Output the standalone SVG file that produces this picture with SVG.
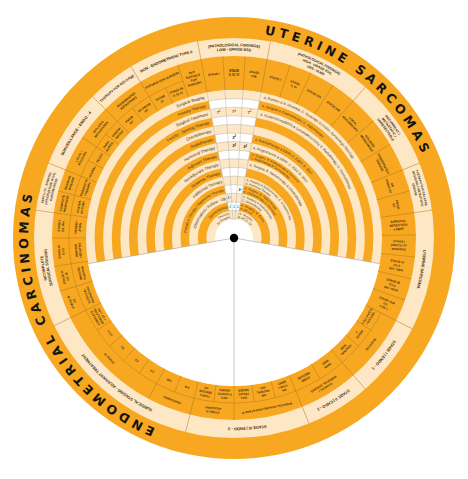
<svg xmlns="http://www.w3.org/2000/svg" width="468" height="479" viewBox="0 0 468 479">
<style>
.t{font-family:"DejaVu Sans",Verdana,sans-serif;font-weight:bold;font-size:12.5px;letter-spacing:4.1px;fill:#141414;text-anchor:middle}
.s{font-family:"Liberation Sans",Arial,sans-serif;font-weight:bold;fill:#3b2b12;text-anchor:middle}
.c{font-family:"Liberation Sans",Arial,sans-serif;font-weight:bold;font-size:3px;fill:#3b2b12;text-anchor:middle}
.l{font-family:"Liberation Sans",Arial,sans-serif;font-size:4px;fill:#3b2b12;text-anchor:end}
.r{font-family:"Liberation Sans",Arial,sans-serif;font-size:3.4px;fill:#3b2b12;text-anchor:start}
.r3{font-family:"Liberation Sans",Arial,sans-serif;font-size:3px;fill:#3b2b12;text-anchor:start}
.d{stroke:#a9741f;stroke-width:0.45;fill:none}
.g{stroke:#a6a6a6;stroke-width:0.4;fill:none}
.m{font-family:"Liberation Sans",Arial,sans-serif;font-size:4px;font-weight:bold;font-style:italic;text-anchor:middle}
.ro{fill:none;stroke:#F7A820;stroke-width:8.6}
.rp{fill:none;stroke:#FDE7C4;stroke-width:8.6}
</style>
<defs>
<path id="p206" d="M-206 0A206 206 0 1 1 206 0A206 206 0 1 1 -206 0"/>
<path id="p191" d="M-191 0A191 191 0 1 1 191 0A191 191 0 1 1 -191 0"/>
<path id="q0" d="M-143.7 0A143.7 143.7 0 1 1 143.7 0A143.7 143.7 0 1 1 -143.7 0"/>
<path id="q1" d="M-135.1 0A135.1 135.1 0 1 1 135.1 0A135.1 135.1 0 1 1 -135.1 0"/>
<path id="q2" d="M-126.5 0A126.5 126.5 0 1 1 126.5 0A126.5 126.5 0 1 1 -126.5 0"/>
<path id="q3" d="M-117.9 0A117.9 117.9 0 1 1 117.9 0A117.9 117.9 0 1 1 -117.9 0"/>
<path id="q4" d="M-109.3 0A109.3 109.3 0 1 1 109.3 0A109.3 109.3 0 1 1 -109.3 0"/>
<path id="q5" d="M-100.7 0A100.7 100.7 0 1 1 100.7 0A100.7 100.7 0 1 1 -100.7 0"/>
<path id="q6" d="M-92.1 0A92.1 92.1 0 1 1 92.1 0A92.1 92.1 0 1 1 -92.1 0"/>
<path id="q7" d="M-83.5 0A83.5 83.5 0 1 1 83.5 0A83.5 83.5 0 1 1 -83.5 0"/>
<path id="q8" d="M-74.9 0A74.9 74.9 0 1 1 74.9 0A74.9 74.9 0 1 1 -74.9 0"/>
<path id="q9" d="M-66.3 0A66.3 66.3 0 1 1 66.3 0A66.3 66.3 0 1 1 -66.3 0"/>
<path id="q10" d="M-57.7 0A57.7 57.7 0 1 1 57.7 0A57.7 57.7 0 1 1 -57.7 0"/>
<path id="q11" d="M-49.1 0A49.1 49.1 0 1 1 49.1 0A49.1 49.1 0 1 1 -49.1 0"/>
<path id="q12" d="M-40.5 0A40.5 40.5 0 1 1 40.5 0A40.5 40.5 0 1 1 -40.5 0"/>
<path id="q13" d="M-31.9 0A31.9 31.9 0 1 1 31.9 0A31.9 31.9 0 1 1 -31.9 0"/>
<path id="q14" d="M-23.3 0A23.3 23.3 0 1 1 23.3 0A23.3 23.3 0 1 1 -23.3 0"/>
<clipPath id="wedge"><path d="M0 0L-27.33 -147.5A150 150 0 0 1 27.33 -147.5Z"/></clipPath>
</defs>
<rect width="468" height="479" fill="#fff"/>
<g transform="translate(234 238)">
 <g id="disc">
  <circle r="221" fill="#F7A820"/>
  <circle r="191" fill="none" stroke="#FDE7C4" stroke-width="18"/>
  <circle r="148" fill="#FDE7C4"/>
  <circle r="135.1" class="ro"/><circle r="117.9" class="ro"/><circle r="100.7" class="ro"/><circle r="83.5" class="ro"/>
  <circle r="66.3" class="ro"/><circle r="49.1" class="ro"/><circle r="31.9" class="ro"/>
  <circle r="19" fill="#fff"/>
 </g>
 <g id="wedge-column" clip-path="url(#wedge)">
  <circle r="148" fill="#fff"/>
  <circle r="143.7" class="rp"/><circle r="126.5" class="rp"/><circle r="109.3" class="rp"/><circle r="92.1" class="rp"/>
  <circle r="74.9" class="rp"/><circle r="57.7" class="rp"/><circle r="40.5" class="rp"/><circle r="23.3" class="rp"/>
  <g class="g">
   <circle r="139.4"/><circle r="130.8"/><circle r="122.2"/><circle r="113.6"/><circle r="105"/><circle r="96.4"/><circle r="87.8"/>
   <circle r="79.2"/><circle r="70.6"/><circle r="62"/><circle r="53.4"/><circle r="44.8"/><circle r="36.2"/><circle r="27.6"/><circle r="19"/>
  </g>
 </g>
 <path id="lower-gap" d="M0 0L145.75 25.7A148 148 0 0 1 -145.75 25.7Z" fill="#fff"/>
 <g id="connectors">
  <g class="g">
   <line x1="19" x2="148" transform="rotate(259.5)"/><line x1="19" x2="148" transform="rotate(266.5)"/>
   <line x1="19" x2="148" transform="rotate(273.5)"/><line x1="19" x2="148" transform="rotate(280.5)"/>
  </g>
  <g stroke="#a8a8a8" stroke-width="0.6">
   <line x1="4" x2="148" transform="rotate(10)"/><line x1="4" x2="148" transform="rotate(90)"/><line x1="4" x2="148" transform="rotate(170)"/>
  </g>
  <g class="d">
   <line x1="148" x2="200" transform="rotate(259.5)"/><line x1="148" x2="200" transform="rotate(280.5)"/>
   <line x1="148" x2="200" transform="rotate(311)"/><line x1="148" x2="200" transform="rotate(338)"/>
   <line x1="148" x2="200" transform="rotate(352)"/><line x1="148" x2="200" transform="rotate(27)"/>
   <line x1="148" x2="200" transform="rotate(49)"/><line x1="148" x2="200" transform="rotate(68)"/>
   <line x1="148" x2="200" transform="rotate(104)"/><line x1="148" x2="200" transform="rotate(154)"/>
   <line x1="148" x2="200" transform="rotate(188)"/><line x1="148" x2="200" transform="rotate(202)"/>
   <line x1="148" x2="200" transform="rotate(225)"/><line x1="148" x2="200" transform="rotate(239)"/>
   <line x1="148" x2="182" transform="rotate(266.5)"/><line x1="148" x2="182" transform="rotate(273.5)"/>
   <line x1="148" x2="182" transform="rotate(288)"/><line x1="148" x2="182" transform="rotate(295)"/>
   <line x1="148" x2="182" transform="rotate(303)"/><line x1="148" x2="182" transform="rotate(320)"/>
   <line x1="148" x2="182" transform="rotate(329)"/><line x1="148" x2="182" transform="rotate(345)"/>
   <line x1="148" x2="182" transform="rotate(359)"/><line x1="148" x2="182" transform="rotate(6)"/>
   <line x1="148" x2="182" transform="rotate(13)"/><line x1="148" x2="182" transform="rotate(20)"/>
   <line x1="148" x2="182" transform="rotate(90)"/><line x1="148" x2="182" transform="rotate(118)"/>
   <line x1="148" x2="182" transform="rotate(163)"/><line x1="148" x2="182" transform="rotate(171)"/>
   <line x1="148" x2="182" transform="rotate(180)"/><line x1="148" x2="182" transform="rotate(195)"/>
   <line x1="148" x2="182" transform="rotate(213.5)"/><line x1="148" x2="182" transform="rotate(252)"/>
   <line x1="148" x2="165" transform="rotate(34)"/><line x1="148" x2="165" transform="rotate(41)"/>
   <line x1="148" x2="165" transform="rotate(58.5)"/><line x1="148" x2="165" transform="rotate(75.5)"/>
   <line x1="148" x2="165" transform="rotate(83)"/><line x1="148" x2="165" transform="rotate(97)"/>
   <line x1="148" x2="165" transform="rotate(111)"/><line x1="148" x2="165" transform="rotate(125)"/>
   <line x1="148" x2="165" transform="rotate(132)"/><line x1="148" x2="165" transform="rotate(139)"/>
   <line x1="148" x2="165" transform="rotate(146)"/><line x1="148" x2="165" transform="rotate(208)"/>
   <line x1="148" x2="165" transform="rotate(219)"/><line x1="148" x2="165" transform="rotate(232)"/>
   <line x1="148" x2="165" transform="rotate(245.5)"/>
   <path d="M147.02 74.91A165 165 0 1 1 -50.99 -156.93"/>
  </g>
 </g>
 <circle id="hub" r="4.2" fill="#000"/>

 <g id="titles" class="t">
  <text transform="rotate(37.7)"><textPath href="#p206" startOffset="25%">UTERINE SARCOMAS</textPath></text>
  <text transform="rotate(-117.2)"><textPath href="#p206" startOffset="25%">ENDOMETRIAL CARCINOMAS</textPath></text>
 </g>

 <g id="sections" class="s">
  <text transform="rotate(0)" font-size="3.8" dy="-0.83"><textPath href="#p191" startOffset="25%">(PATHOLOGICAL FINDINGS)</textPath></text>
  <text transform="rotate(0)" font-size="3.8" dy="3.57"><textPath href="#p191" startOffset="25%">LOW - GRADE ESS</textPath></text>
  <text transform="rotate(26)" font-size="3.4" dy="-2.98"><textPath href="#p191" startOffset="25%">(PATHOLOGICAL FINDINGS)</textPath></text>
  <text transform="rotate(26)" font-size="3.4" dy="1.22"><textPath href="#p191" startOffset="25%">HIGH - GRADE ESS,</textPath></text>
  <text transform="rotate(26)" font-size="3.4" dy="5.42"><textPath href="#p191" startOffset="25%">UES - ULMS</textPath></text>
  <text transform="rotate(54.5)" font-size="3.4" dy="-2.98"><textPath href="#p191" startOffset="25%">RECURRENT /</textPath></text>
  <text transform="rotate(54.5)" font-size="3.4" dy="1.22"><textPath href="#p191" startOffset="25%">METASTATIC /</textPath></text>
  <text transform="rotate(54.5)" font-size="3.4" dy="5.42"><textPath href="#p191" startOffset="25%">UNRESECTABLE</textPath></text>
  <text transform="rotate(75)" font-size="3" dy="-2.82"><textPath href="#p191" startOffset="25%">THERAPY FOR RELAPSE</textPath></text>
  <text transform="rotate(75)" font-size="3" dy="1.08"><textPath href="#p191" startOffset="25%">RESIDUAL / METASTATIC</textPath></text>
  <text transform="rotate(75)" font-size="3" dy="4.98"><textPath href="#p191" startOffset="25%">DISEASE</textPath></text>
  <text transform="rotate(99.5)" font-size="4" dy="1.44"><textPath href="#p191" startOffset="25%">UTERINE SARCOMA</textPath></text>
  <text transform="rotate(128)" font-size="4" dy="1.44"><textPath href="#p191" startOffset="25%">STAGE I | ENDO - 1</textPath></text>
  <text transform="rotate(148.5)" font-size="4" dy="1.44"><textPath href="#p191" startOffset="25%">STAGE II | ENDO - 2</textPath></text>
  <text transform="rotate(176)" font-size="4" dy="1.44"><textPath href="#p191" startOffset="25%">STAGE III | ENDO - 3</textPath></text>
  <text transform="rotate(219)" font-size="4" dy="1.44"><textPath href="#p191" startOffset="25%">SURGICAL STAGING - ADJUVANT TREATMENT</textPath></text>
  <text transform="rotate(-99)" font-size="3.8" dy="-0.83"><textPath href="#p191" startOffset="25%">INCOMPLETE</textPath></text>
  <text transform="rotate(-99)" font-size="3.8" dy="3.57"><textPath href="#p191" startOffset="25%">SURGICAL STAGING</textPath></text>
  <text transform="rotate(-75)" font-size="3" dy="-2.82"><textPath href="#p191" startOffset="25%">FERTILITY - SPARING</textPath></text>
  <text transform="rotate(-75)" font-size="3" dy="1.08"><textPath href="#p191" startOffset="25%">OPTION (STAGE IA G1)</textPath></text>
  <text transform="rotate(-75)" font-size="3" dy="4.98"><textPath href="#p191" startOffset="25%">ENDOMETRIOID</textPath></text>
  <text transform="rotate(-56.5)" font-size="4" dy="1.44"><textPath href="#p191" startOffset="25%">SURVEILLANCE - ENDO - 4</textPath></text>
  <text transform="rotate(-38)" font-size="3.5" dy="1.26"><textPath href="#p191" startOffset="25%">THERAPY FOR RELAPSE</textPath></text>
  <text transform="rotate(-21)" font-size="3.8" dy="1.37"><textPath href="#p191" startOffset="25%">NON - ENDOMETRIOID TYPE II</textPath></text>
 </g>

 <g id="cells" class="c">
  <text transform="rotate(353)"><tspan x="0" y="-163.9">STAGE I</tspan></text>
  <text transform="rotate(0)"><tspan x="0" y="-165.8">STAGE</tspan><tspan x="0" y="-161.9">II, III, IV</tspan></text>
  <text transform="rotate(7)"><tspan x="0" y="-165.8">STAGE</tspan><tspan x="0" y="-161.9">I/IIB</tspan></text>
  <text transform="rotate(14.5)"><tspan x="0" y="-163.9">STAGE I</tspan></text>
  <text transform="rotate(21.5)"><tspan x="0" y="-165.8">STAGE</tspan><tspan x="0" y="-161.9">II, III</tspan></text>
  <text transform="rotate(29)"><tspan x="0" y="-163.9">STAGE IVA</tspan></text>
  <text transform="rotate(37)"><tspan x="0" y="-163.9">STAGE IVB</tspan></text>
  <text transform="rotate(45.5)"><tspan x="0" y="-165.8">LOCAL</tspan><tspan x="0" y="-161.9">RECURRENCE</tspan></text>
  <text transform="rotate(54.5)"><tspan x="0" y="-165.8">ISOLATED</tspan><tspan x="0" y="-161.9">METASTASES</tspan></text>
  <text transform="rotate(63.5)"><tspan x="0" y="-165.8">DISSEMINATED</tspan><tspan x="0" y="-161.9">DISEASE</tspan></text>
  <text transform="rotate(71.5)"><tspan x="0" y="-165.8">NO</tspan><tspan x="0" y="-161.9">PRIOR RT</tspan></text>
  <text transform="rotate(78.5)"><tspan x="0" y="-165.8">PRIOR</tspan><tspan x="0" y="-161.9">RT</tspan></text>

  <text transform="rotate(355.5)"><tspan x="165" y="-2.75">SURGICAL</tspan><tspan x="165" y="1.15">RESECTION</tspan><tspan x="165" y="5.05">± EBRT</tspan></text>
  <text transform="rotate(2.5)"><tspan x="165" y="-2.75">STAGE I</tspan><tspan x="165" y="1.15">(FERTILITY</tspan><tspan x="165" y="5.05">SPARING)</tspan></text>
  <text transform="rotate(9.5)"><tspan x="165" y="-2.75">STAGE IA</tspan><tspan x="165" y="1.15">G1-2</tspan><tspan x="165" y="5.05">INV. &lt;50%</tspan></text>
  <text transform="rotate(16.5)"><tspan x="165" y="-2.75">STAGE IB</tspan><tspan x="165" y="1.15">G1-2</tspan><tspan x="165" y="5.05">INV. ≥50%</tspan></text>
  <text transform="rotate(23.5)"><tspan x="165" y="-2.75">STAGE IA/B</tspan><tspan x="165" y="1.15">G3</tspan><tspan x="165" y="5.05">LVSI +</tspan></text>

  <text transform="rotate(128)"><tspan x="0" y="-172.4">SURGICAL</tspan></text>
  <text transform="rotate(120.5)"><tspan x="0" y="-157.3">SEROUS /</tspan><tspan x="0" y="-153.4">CLEAR CELL</tspan></text>
  <text transform="rotate(127.5)"><tspan x="0" y="-157.3">STAGE</tspan><tspan x="0" y="-153.4">II</tspan></text>
  <text transform="rotate(135)"><tspan x="0" y="-157.3">CENTRAL</tspan><tspan x="0" y="-153.4">RISK</tspan></text>
  <text transform="rotate(148.5)"><tspan x="0" y="-174.3">CLINICAL /</tspan><tspan x="0" y="-170.4">SURGICAL STAGING</tspan></text>
  <text transform="rotate(143.75)"><tspan x="0" y="-157.3">HIGH</tspan><tspan x="0" y="-153.4">RISK</tspan></text>
  <text transform="rotate(153.25)"><tspan x="0" y="-157.3">INTER-</tspan><tspan x="0" y="-153.4">MEDIATE</tspan></text>

  <text transform="rotate(169)"><tspan x="0" y="-172.4">SURGICAL STAGING FOR STAGE III</tspan></text>
  <text transform="rotate(187)"><tspan x="0" y="-174.3">STAGE III</tspan><tspan x="0" y="-170.4">ADJUVANT</tspan></text>
  <text transform="rotate(161.75)"><tspan x="0" y="-159.2">IIIA</tspan><tspan x="0" y="-155.4">TYPE I</tspan><tspan x="0" y="-151.5">EBRT</tspan></text>
  <text transform="rotate(169.25)"><tspan x="0" y="-159.2">IIIB</tspan><tspan x="0" y="-155.4">VAGINAL</tspan><tspan x="0" y="-151.5">INV.</tspan></text>
  <text transform="rotate(176.5)"><tspan x="0" y="-159.2">IIIC1</tspan><tspan x="0" y="-155.4">PELVIC</tspan><tspan x="0" y="-151.5">NODES</tspan></text>
  <text transform="rotate(183.5)"><tspan x="0" y="-159.2">IIIC2</tspan><tspan x="0" y="-155.4">P-AORTIC</tspan><tspan x="0" y="-151.5">NODES</tspan></text>
  <text transform="rotate(190.5)"><tspan x="0" y="-159.2">TYPE II</tspan><tspan x="0" y="-155.4">SEROUS</tspan><tspan x="0" y="-151.5">CC</tspan></text>

  <text transform="rotate(201)"><tspan x="0" y="-172.4">PERITONEAL</tspan></text>
  <text transform="rotate(226)"><tspan x="0" y="-172.4">STAGE IV</tspan></text>
  <text transform="rotate(197.5)"><tspan x="0" y="-155.4">IVA</tspan></text>
  <text transform="rotate(204.5)"><tspan x="0" y="-155.4">IVB</tspan></text>
  <text transform="rotate(211.5)"><tspan x="0" y="-155.4">C3</tspan></text>
  <text transform="rotate(218.5)"><tspan x="0" y="-155.4">C2</tspan></text>
  <text transform="rotate(225.5)"><tspan x="0" y="-155.4">C1</tspan></text>
  <text transform="rotate(232.5)"><tspan x="0" y="-155.4">C1-2</tspan></text>
  <text transform="rotate(240)"><tspan x="0" y="-159.2">COMPLETE</tspan><tspan x="0" y="-155.4">DEBULKING</tspan><tspan x="0" y="-151.5">+ CT ± RT</tspan></text>

  <text transform="rotate(248.5)"><tspan x="0" y="-174.3">STAGE IB</tspan><tspan x="0" y="-170.4">G3</tspan></text>
  <text transform="rotate(257)"><tspan x="0" y="-174.3">STAGE IA</tspan><tspan x="0" y="-170.4">G3, IB</tspan></text>
  <text transform="rotate(265.5)"><tspan x="0" y="-174.3">STAGE IA</tspan><tspan x="0" y="-170.4">G1-2</tspan></text>
  <text transform="rotate(274)"><tspan x="0" y="-174.3">STAGE I</tspan><tspan x="0" y="-170.4">G1, INV.</tspan></text>
  <text transform="rotate(248.5)"><tspan x="0" y="-157.3">SURGICAL</tspan><tspan x="0" y="-153.4">RESTAGING</tspan></text>
  <text transform="rotate(257)"><tspan x="0" y="-157.3">IMAGING</tspan><tspan x="0" y="-153.4">POSITIVE</tspan></text>
  <text transform="rotate(265.5)"><tspan x="0" y="-157.3">IMAGING</tspan><tspan x="0" y="-153.4">NEGATIVE</tspan></text>
  <text transform="rotate(274)"><tspan x="0" y="-157.3">OBSERV-</tspan><tspan x="0" y="-153.4">ATION</tspan></text>

  <text transform="rotate(281.5)"><tspan x="0" y="-174.3">COMPLETE</tspan><tspan x="0" y="-170.4">RESPONSE</tspan></text>
  <text transform="rotate(288.5)"><tspan x="0" y="-174.3">RESIDUAL</tspan><tspan x="0" y="-170.4">DISEASE</tspan></text>
  <text transform="rotate(281.5)"><tspan x="0" y="-157.3">HYSTER-</tspan><tspan x="0" y="-153.4">ECTOMY</tspan></text>
  <text transform="rotate(288.5)"><tspan x="0" y="-157.3">PROGESTIN</tspan><tspan x="0" y="-153.4">THERAPY</tspan></text>

  <text transform="rotate(297.75)"><tspan x="0" y="-174.3">LOCAL /</tspan><tspan x="0" y="-170.4">REGIONAL</tspan></text>
  <text transform="rotate(309.25)"><tspan x="0" y="-174.3">ISOLATED</tspan><tspan x="0" y="-170.4">METASTASES</tspan></text>
  <text transform="rotate(295)"><tspan x="0" y="-155.4">VAGINAL</tspan></text>
  <text transform="rotate(300.75)"><tspan x="0" y="-155.4">PELVIC</tspan></text>
  <text transform="rotate(306.25)"><tspan x="0" y="-157.3">PARA-</tspan><tspan x="0" y="-153.4">AORTIC</tspan></text>
  <text transform="rotate(312)"><tspan x="0" y="-157.3">DISSEM-</tspan><tspan x="0" y="-153.4">INATED</tspan></text>

  <text transform="rotate(322)"><tspan x="0" y="-174.3">DISSEMINATED</tspan><tspan x="0" y="-170.4">METASTASES</tspan></text>
  <text transform="rotate(318.5)"><tspan x="0" y="-157.3">PRIOR</tspan><tspan x="0" y="-153.4">RT</tspan></text>
  <text transform="rotate(325.5)"><tspan x="0" y="-157.3">NO PRIOR</tspan><tspan x="0" y="-153.4">RT</tspan></text>

  <text transform="rotate(335.5)"><tspan x="0" y="-172.4">SUITABLE FOR SURGERY</tspan></text>
  <text transform="rotate(332.25)"><tspan x="0" y="-157.3">STAGE</tspan><tspan x="0" y="-153.4">IA</tspan></text>
  <text transform="rotate(338.75)"><tspan x="0" y="-157.3">STAGE IB,</tspan><tspan x="0" y="-153.4">II, III, IV</tspan></text>
  <text transform="rotate(345.75)"><tspan x="0" y="-169.7">NOT</tspan><tspan x="0" y="-165.8">SUITABLE</tspan><tspan x="0" y="-161.9">FOR</tspan><tspan x="0" y="-158">SURGERY</tspan></text>
 </g>

 <g id="ring-labels" class="l">
  <text transform="rotate(-12)" dy="1.44"><textPath href="#q0" startOffset="25%">Surgical Staging</textPath></text>
  <text transform="rotate(-12)" dy="1.44"><textPath href="#q1" startOffset="25%">Primary Therapy</textPath></text>
  <text transform="rotate(-12)" dy="1.44"><textPath href="#q2" startOffset="25%">Surgical Treatment</textPath></text>
  <text transform="rotate(-12)" dy="1.44"><textPath href="#q3" startOffset="25%">Fertility - Sparing Therapy</textPath></text>
  <text transform="rotate(-12)" dy="1.44"><textPath href="#q4" startOffset="25%">Chemotherapy</textPath></text>
  <text transform="rotate(-12)" dy="1.44"><textPath href="#q5" startOffset="25%">Radiotherapy</textPath></text>
  <text transform="rotate(-12)" dy="1.44"><textPath href="#q6" startOffset="25%">Hormonal Therapy</textPath></text>
  <text transform="rotate(-12)" dy="1.44"><textPath href="#q7" startOffset="25%">Adjuvant Therapy</textPath></text>
  <text transform="rotate(-12)" dy="1.44"><textPath href="#q8" startOffset="25%">Neoadjuvant Therapy</textPath></text>
  <text transform="rotate(-12)" dy="1.44"><textPath href="#q9" startOffset="25%">Systemic Therapy</textPath></text>
  <text transform="rotate(-12)" dy="1.44"><textPath href="#q10" startOffset="25%">Additional Therapy</textPath></text>
  <text transform="rotate(-12)" dy="1.26" font-size="3.5"><textPath href="#q11" startOffset="25%">Palliative Therapy / Supportive Therapy</textPath></text>
  <text transform="rotate(-12)" dy="1.44"><textPath href="#q12" startOffset="25%">Observation / Follow - Up</textPath></text>
  <text transform="rotate(-12)" dy="1.44"><textPath href="#q13" startOffset="25%">Surveillance</textPath></text>
  <text transform="rotate(-12)" dy="-0.82" font-size="3"><textPath href="#q14" startOffset="25%">Therapy</textPath></text>
  <text transform="rotate(-12)" dy="2.98" font-size="3"><textPath href="#q14" startOffset="25%">for Relapse</textPath></text>
 </g>

 <g id="references">
  <text class="r" transform="rotate(12)" dy="1.22"><textPath href="#q0" startOffset="25%">A. Romero &amp; N. Hirshfeld, C. Rozelingh Gonzales, Gynecologic Oncology</textPath></text>
  <text class="r" transform="rotate(12)" dy="1.22"><textPath href="#q1" startOffset="25%">A. Surgical &amp; Chemotherapy, C. Radiotherapy</textPath></text>
  <text class="r" transform="rotate(12)" dy="1.22"><textPath href="#q2" startOffset="25%">A. Hysterectomy(BSO) &amp; Lymphadenectomy, C. Radiotherapy, D. Chemotherapy</textPath></text>
  <text class="r" transform="rotate(12)" dy="1.22"><textPath href="#q5" startOffset="25%">A. Brachytherapy &amp; EBRT, C. EBRT, D. 2007</textPath></text>
  <text class="r" transform="rotate(12)" dy="1.22"><textPath href="#q6" startOffset="25%">A. Progesterone &amp; EBRT, C. 2007, D. 2007</textPath></text>
  <text class="r3" transform="rotate(12)" dy="-0.82"><textPath href="#q7" startOffset="25%">A. Surgery, B. Radiotherapy &amp; Hormonal,</textPath></text>
  <text class="r3" transform="rotate(12)" dy="2.98"><textPath href="#q7" startOffset="25%">C. Radiotherapy &amp; Chemotherapy</textPath></text>
  <text class="r" transform="rotate(12)" dy="1.22"><textPath href="#q8" startOffset="25%">A. Surgery, B. Radiotherapy &amp; Chemotherapy</textPath></text>
  <text class="r3" transform="rotate(12)" dy="-0.82"><textPath href="#q10" startOffset="25%">A. Surgery &amp; Radiotherapy, C. Chemotherapy,</textPath></text>
  <text class="r3" transform="rotate(12)" dy="2.98"><textPath href="#q10" startOffset="25%">D. Hormonal Therapy</textPath></text>
  <text class="r3" transform="rotate(12)" dy="-0.82"><textPath href="#q11" startOffset="25%">A. Surgery, B. Radiotherapy,</textPath></text>
  <text class="r3" transform="rotate(12)" dy="2.98"><textPath href="#q11" startOffset="25%">C. Chemotherapy, D. Hormonal</textPath></text>
  <text class="r3" transform="rotate(12)" dy="-0.82"><textPath href="#q12" startOffset="25%">A. Surgery &amp; Radiotherapy,</textPath></text>
  <text class="r3" transform="rotate(12)" dy="2.98"><textPath href="#q12" startOffset="25%">C. Chemotherapy</textPath></text>
  <text class="r3" transform="rotate(12)" dy="-0.82"><textPath href="#q13" startOffset="25%">A. Imaging, B. Exam,</textPath></text>
  <text class="r3" transform="rotate(12)" dy="2.98"><textPath href="#q13" startOffset="25%">C. CA-125</textPath></text>
  <text class="r3" transform="rotate(12)" dy="-0.82"><textPath href="#q14" startOffset="25%">A. Surgery,</textPath></text>
  <text class="r3" transform="rotate(12)" dy="2.98"><textPath href="#q14" startOffset="25%">B. RT, C. CT</textPath></text>
 </g>

 <g id="markers" class="m">
  <g fill="#d6332a">
   <text x="-15.4" y="-124.2">T<tspan font-size="2.6" dy="-1.4">1</tspan></text>
   <text x="0" y="-125.1">T<tspan font-size="2.6" dy="-1.4">1</tspan></text>
   <text x="15.4" y="-124.2">T<tspan font-size="2.6" dy="-1.4">1</tspan></text>
  </g>
  <g fill="#222">
   <text x="0" y="-99.3">3<tspan font-size="2.6" dy="-1.4">2</tspan></text>
   <text x="0" y="-90.7">3<tspan font-size="2.6" dy="-1.4">2</tspan></text>
   <text x="11.2" y="-90">3<tspan font-size="2.6" dy="-1.4">2</tspan></text>
   <text x="6" y="-47.3" font-size="3.4">3<tspan font-size="2.3" dy="-1.2">2</tspan></text>
  </g>
  <text x="-4.9" y="-38.8" font-size="3.4" fill="#2f6db5">1<tspan font-size="2.3" dy="-1.2">2</tspan></text>
  <g fill="#2a9a48" font-size="3">
   <text x="-3.9" y="-30.3">1</text><text x="0" y="-30.5">1</text><text x="3.9" y="-30.3">1</text>
  </g>
 </g>
</g>
</svg>
